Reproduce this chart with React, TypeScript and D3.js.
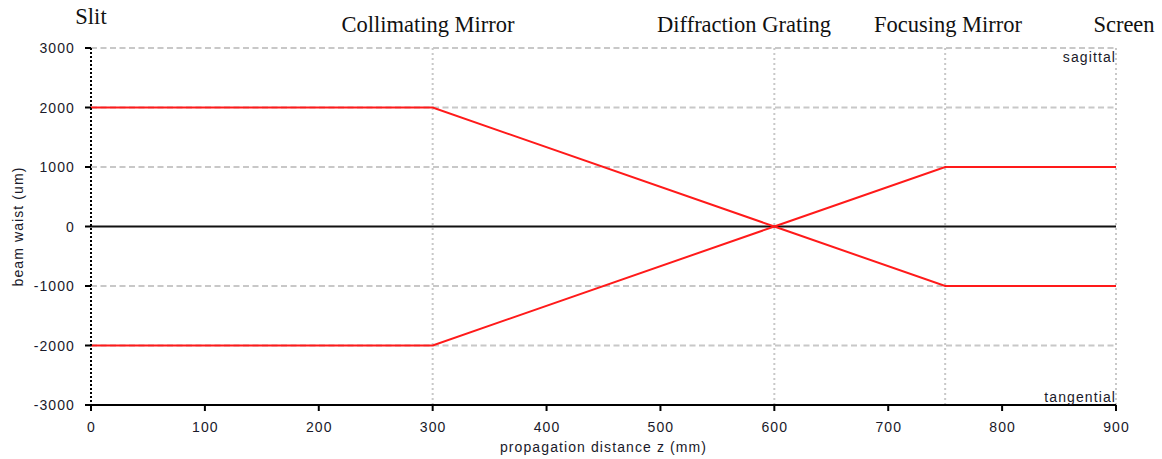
import React from "react";
import * as d3 from "d3";

const distances = [0, 300, 600, 750, 900];
const upperBeam = [2000, 2000, 0, -1000, -1000];
const lowerBeam = [-2000, -2000, 0, 1000, 1000];
const elementNames = ["Slit", "Collimating Mirror", "Diffraction Grating", "Focusing Mirror", "Screen"];
const elementLabelX = [91, 428, 744, 948, 1124];
const elementLabelY = [24, 32, 32, 32, 32];
const xTicks = [0, 100, 200, 300, 400, 500, 600, 700, 800, 900];
const yTicks = [-3000, -2000, -1000, 0, 1000, 2000, 3000];
const gridZ = [300, 600, 750, 900];

const W = 1162;
const H = 459;
const left = 91;
const right = 1116;
const top = 48;
const bottom = 405;

export default function App() {
  const x = d3.scaleLinear().domain([0, 900]).range([left, right]);
  const y = d3.scaleLinear().domain([-3000, 3000]).range([bottom, top]);
  const line = d3
    .line<[number, number]>()
    .x((d) => x(d[0]))
    .y((d) => y(d[1]));
  const upper = distances.map((z, i) => [z, upperBeam[i]] as [number, number]);
  const lower = distances.map((z, i) => [z, lowerBeam[i]] as [number, number]);
  const sans = "Arial, 'Liberation Sans', sans-serif";
  const serif = "'Times New Roman', 'Liberation Serif', serif";
  const textProps = { fontFamily: sans, fontSize: 14, fill: "#1a1a2a", letterSpacing: 1.1 };

  return (
    <svg
      width={W}
      height={H}
      style={{ position: "absolute", left: 0, top: 0, background: "#fff" }}
    >
      {/* horizontal dashed grid */}
      {yTicks
        .filter((v) => v !== -3000 && v !== 0)
        .map((v) => (
          <line
            key={"h" + v}
            x1={left}
            x2={right}
            y1={y(v)}
            y2={y(v)}
            stroke="#c8c8c8"
            strokeWidth={2}
            strokeDasharray="6,3.5"
          />
        ))}
      {/* vertical dotted grid at the optical elements */}
      {gridZ.map((z) => (
        <line
          key={"v" + z}
          x1={x(z)}
          x2={x(z)}
          y1={top}
          y2={bottom}
          stroke="#c8c8c8"
          strokeWidth={2}
          strokeDasharray="2,3"
        />
      ))}
      {/* zero line */}
      <line x1={left} x2={right} y1={y(0)} y2={y(0)} stroke="#111" strokeWidth={2} />

      {/* beam envelopes */}
      <path d={line(upper) || ""} fill="none" stroke="#ff1a1a" strokeWidth={2} />
      <path d={line(lower) || ""} fill="none" stroke="#ff1a1a" strokeWidth={2} />

      {/* y axis */}
      <line x1={left} x2={left} y1={top} y2={bottom} stroke="#000" strokeWidth={2} strokeDasharray="2,2" />
      {yTicks.map((v) => (
        <g key={"yt" + v}>
          <line x1={left - 6} x2={left} y1={y(v)} y2={y(v)} stroke="#000" strokeWidth={2} />
          <text x={left - 16} y={y(v)} dy="0.36em" textAnchor="end" {...textProps}>
            {v}
          </text>
        </g>
      ))}

      {/* x axis */}
      <line x1={left} x2={right} y1={bottom} y2={bottom} stroke="#000" strokeWidth={2} />
      {xTicks.map((v) => (
        <g key={"xt" + v}>
          <line x1={x(v)} x2={x(v)} y1={bottom} y2={bottom + 6} stroke="#000" strokeWidth={2} />
          <text x={x(v) + 0.5} y={432} textAnchor="middle" {...textProps}>
            {v}
          </text>
        </g>
      ))}

      <text x={(left + right) / 2} y={452} textAnchor="middle" {...textProps}>
        propagation distance z (mm)
      </text>
      <text transform={`translate(23,${y(0)}) rotate(-90)`} textAnchor="middle" {...textProps}>
        beam waist (um)
      </text>

      <text x={right} y={62} textAnchor="end" {...textProps}>
        sagittal
      </text>
      <text x={right} y={402} textAnchor="end" {...textProps}>
        tangential
      </text>

      {elementNames.map((n, i) => (
        <text
          key={n}
          x={elementLabelX[i]}
          y={elementLabelY[i]}
          textAnchor="middle"
          fontFamily={serif}
          fontSize={22.5}
          fill="#111"
        >
          {n}
        </text>
      ))}
    </svg>
  );
}
